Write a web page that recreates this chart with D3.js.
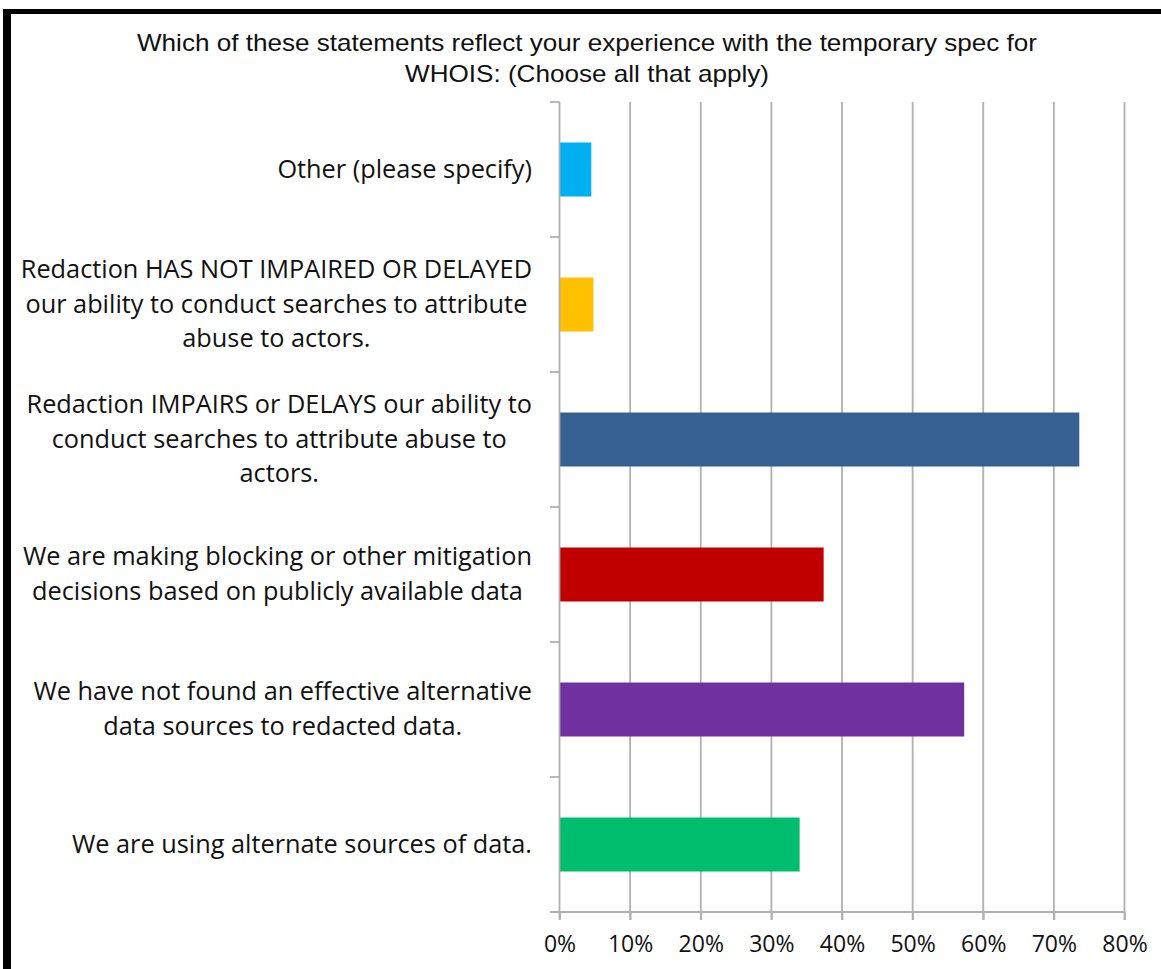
<!DOCTYPE html>
<html>
  <head>
    <meta charset="utf-8">
    <title>WHOIS temporary spec</title>
    <style>
      body { margin: 0; background: white; }
      svg { display: block; }
    </style>
  </head>
  <body>
    <div id="chart"></div>
    <script src="https://d3js.org/d3.v7.min.js"></script>
    <script>
      // data, top row first
      const categories = [
        "Other (please specify)",
        "Redaction HAS NOT IMPAIRED OR DELAYED|our ability to conduct searches to attribute|abuse to actors.",
        "Redaction IMPAIRS or DELAYS our ability to|conduct searches to attribute abuse to|actors.",
        "We are making blocking or other mitigation|decisions based on publicly available data",
        "We have not found an effective alternative|data sources to redacted data.",
        "We are using alternate sources of data."
      ];
      const values = [0.045, 0.048, 0.736, 0.374, 0.573, 0.340];
      const colors = ["#00b0f0", "#ffc000", "#376092", "#c00000", "#7030a0", "#00be6e"];
      const xTicks = [0, 0.1, 0.2, 0.3, 0.4, 0.5, 0.6, 0.7, 0.8];
      const titleLines = [
        "Which of these statements reflect your experience with the temporary spec for",
        "WHOIS: (Choose all that apply)"
      ];
      const titleWidths = [900, 364];

      const W = 1161, H = 969;
      const pLeft = 559.5, pRight = 1124.5, pTop = 102, pBottom = 912;
      const gridColor = "#b0b0b0";
      const labelFont = "'Open Sans', Lato, sans-serif";

      const svg = d3.select("#chart").append("svg").attr("width", W).attr("height", H);

      // frame
      svg.append("rect").attr("x", 3).attr("y", 9).attr("width", 8).attr("height", H).attr("fill", "black");
      svg.append("rect").attr("x", 3).attr("y", 9).attr("width", W).attr("height", 5).attr("fill", "black");

      svg.append("g").selectAll("text").data(titleLines).enter().append("text")
        .attr("x", 587).attr("y", (d, i) => 51 + i * 31)
        .attr("text-anchor", "middle")
        .attr("textLength", (d, i) => titleWidths[i])
        .attr("lengthAdjust", "spacingAndGlyphs")
        .style("font-family", "'Liberation Sans', Arial, sans-serif")
        .style("font-size", "24px")
        .attr("fill", "#111")
        .text(d => d);

      const x = d3.scaleLinear().domain([0, 0.8]).range([pLeft, pRight]);
      const y = d3.scaleBand().domain(categories).range([pTop, pBottom]).paddingInner(0.6).paddingOuter(0.3);

      // vertical gridlines
      svg.append("g").selectAll("line").data(xTicks.slice(1)).enter().append("line")
        .attr("x1", d => x(d)).attr("x2", d => x(d))
        .attr("y1", pTop).attr("y2", pBottom + 8)
        .attr("stroke", gridColor).attr("stroke-width", 1.8);

      // bars
      svg.append("g").selectAll("rect").data(values).enter().append("rect")
        .attr("x", x(0))
        .attr("y", (d, i) => y(categories[i]))
        .attr("width", d => x(d) - x(0))
        .attr("height", y.bandwidth())
        .attr("fill", (d, i) => colors[i]);

      // x axis
      const xAxis = svg.append("g").attr("transform", "translate(0," + pBottom + ")")
        .call(d3.axisBottom(x).tickValues(xTicks).tickFormat(d3.format(".0%")).tickSize(8).tickPadding(16));
      xAxis.select(".domain").remove();
      xAxis.selectAll(".tick line").attr("stroke", gridColor).attr("stroke-width", 1.8);
      xAxis.selectAll(".tick text")
        .style("font-family", labelFont).style("font-size", "23px").attr("fill", "#111");
      svg.append("line").attr("x1", 550).attr("x2", pRight + 1).attr("y1", pBottom).attr("y2", pBottom)
        .attr("stroke", gridColor).attr("stroke-width", 1.8);

      // y axis line and band ticks
      const step = (pBottom - pTop) / categories.length;
      svg.append("line").attr("x1", pLeft).attr("x2", pLeft).attr("y1", pTop).attr("y2", pBottom + 8)
        .attr("stroke", gridColor).attr("stroke-width", 1.8);
      svg.append("g").selectAll("line").data(d3.range(categories.length + 1)).enter().append("line")
        .attr("x1", 550).attr("x2", pLeft)
        .attr("y1", i => pTop + i * step).attr("y2", i => pTop + i * step)
        .attr("stroke", gridColor).attr("stroke-width", 1.8);

      // category labels: block right aligned, lines centred within block
      const labelRight = 532, lineH = 34.5;
      categories.forEach(function (c) {
        const lines = c.split("|");
        const cy = y(c) + y.bandwidth() / 2;
        const t = svg.append("text")
          .style("font-family", labelFont).style("font-size", "25.3px")
          .attr("fill", "#111").attr("text-anchor", "middle");
        const spans = lines.map((l, i) => t.append("tspan")
          .attr("y", cy + (i - (lines.length - 1) / 2) * lineH + 8).text(l));
        const maxW = d3.max(spans, s => s.node().getComputedTextLength());
        spans.forEach(s => s.attr("x", labelRight - maxW / 2));
      });
    </script>
  </body>
</html>
